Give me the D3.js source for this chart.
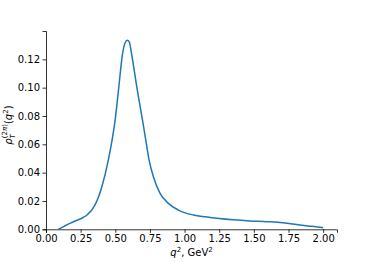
<!DOCTYPE html>
<html>
<head>
<meta charset="utf-8">
<script src="https://cdn.jsdelivr.net/npm/d3@7"></script>
<style>
  body { margin: 0; background: #fff; }
  text { font-family: "DejaVu Sans", sans-serif; }
</style>
</head>
<body>
<svg></svg>
<script>
let q2 = [0.089, 0.13, 0.173, 0.215, 0.258, 0.3, 0.35, 0.4, 0.45, 0.5, 0.525, 0.551, 0.57, 0.587, 0.6, 0.619, 0.655, 0.671, 0.696, 0.72, 0.744, 0.775, 0.823, 0.883, 0.955, 1.064, 1.15, 1.25, 1.35, 1.47, 1.59, 1.71, 1.83, 1.92, 2.0];
let rho = [0, 0.0021, 0.0042, 0.006, 0.0078, 0.0105, 0.0165, 0.029, 0.049, 0.078, 0.1, 0.123, 0.1315, 0.1335, 0.1325, 0.123, 0.1007, 0.0913, 0.0772, 0.063, 0.0489, 0.0371, 0.0254, 0.0183, 0.0136, 0.0101, 0.0088, 0.0076, 0.0067, 0.0059, 0.0054, 0.0047, 0.0031, 0.0021, 0.0011];

let xTicks = [0, 0.25, 0.5, 0.75, 1.0, 1.25, 1.5, 1.75, 2.0];
let yTicks = [0, 0.02, 0.04, 0.06, 0.08, 0.10, 0.12];

let width = 374;
let height = 262;
let padLeft = 46, padRight = 337, padTop = 31, padBottom = 229.3;
let fontSize = 10;

let svg = d3.select('svg').attr('width', width).attr('height', height);

let xScale = d3.scaleLinear().domain([0, 2.1]).range([padLeft, padRight]);
let yScale = d3.scaleLinear().domain([0, 0.14]).range([padBottom, padTop]);

let xAxis = d3.axisBottom(xScale).tickValues(xTicks).tickFormat(d3.format('.2f')).tickSize(3.5).tickPadding(2.5);
let yAxis = d3.axisLeft(yScale).tickValues(yTicks).tickFormat(d3.format('.2f')).tickSize(3.5).tickPadding(2.5);

let gx = svg.append('g').attr('transform', `translate(0, ${padBottom})`).call(xAxis);
let gy = svg.append('g').attr('transform', `translate(${padLeft}, 0)`).call(yAxis);

[gx, gy].forEach(g => {
    g.selectAll('text').attr('font-size', fontSize).attr('fill', '#000').style('font-family', '"DejaVu Sans", sans-serif');
    g.selectAll('line').attr('stroke', '#000').attr('stroke-width', 0.8);
    g.select('.domain').attr('stroke', '#000').attr('stroke-width', 0.8);
});

let line = d3.line()
    .x((d, i) => xScale(q2[i]))
    .y((d) => yScale(d))
    .curve(d3.curveMonotoneX);

svg.append('path')
    .datum(rho)
    .attr('d', line)
    .attr('fill', 'none')
    .attr('stroke', '#1f77b4')
    .attr('stroke-width', 1.5);

// axis labels
let sub = 7;
let xl = svg.append('text')
    .attr('x', (padLeft + padRight) / 2)
    .attr('y', 256)
    .attr('text-anchor', 'middle')
    .attr('font-size', fontSize);
xl.append('tspan').attr('font-style', 'italic').text('q');
xl.append('tspan').attr('font-size', sub).attr('dy', -4).text('2');
xl.append('tspan').attr('dy', 4).text(', GeV');
xl.append('tspan').attr('font-size', sub).attr('dy', -4).text('2');

let yl = svg.append('text')
    .attr('transform', `translate(12, ${(padTop + padBottom) / 2 - 5}) rotate(-90)`)
    .attr('text-anchor', 'middle')
    .attr('font-size', fontSize);
yl.append('tspan').attr('font-style', 'italic').text('ρ');
yl.append('tspan').attr('font-size', sub).attr('font-style', 'italic').attr('dy', 2.5).text('T');
yl.append('tspan').attr('font-size', sub).attr('dx', -4).attr('dy', -7.5).text('(2');
yl.append('tspan').attr('font-size', sub).attr('font-style', 'italic').text('π');
yl.append('tspan').attr('font-size', sub).text(')');
yl.append('tspan').attr('dy', 5).text('(');
yl.append('tspan').attr('font-style', 'italic').text('q');
yl.append('tspan').attr('font-size', sub).attr('dy', -4).text('2');
yl.append('tspan').attr('dy', 4).text(')');
</script>
</body>
</html>
